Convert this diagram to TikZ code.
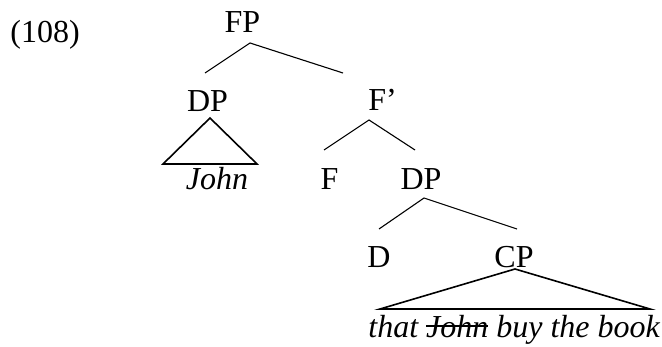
\documentclass[tikz,border=0pt]{standalone}
\usepackage{fontspec}
\setmainfont{Liberation Serif}
\newcommand\mystrike[1]{\setbox0\hbox{#1}\rlap{\rule[0.31em]{\wd0}{0.07em}}\box0\relax}
\begin{document}
\begin{tikzpicture}[x=0.5pt,y=-0.5pt,
  lab/.style={inner sep=0pt,anchor=base,font=\fontsize{16}{19}\selectfont},
  branch/.style={line width=0.55pt},
  tri/.style={line width=0.8pt,line join=miter}]
\useasboundingbox (0,0) rectangle (662,347);
\node[lab,anchor=base west] (ex) at (10,43) {(108)};
\node[lab] (FP) at (242.5,33) {FP};
\node[lab] (DP1) at (207.5,112) {DP};
\node[lab] (Fbar) at (382.5,111) {F’};
\node[lab] (F) at (329.5,190) {F};
\node[lab] (DP2) at (421,190) {DP};
\node[lab] (D) at (379,267) {D};
\node[lab] (CP) at (514,267) {CP};
\node[lab] (John) at (217,190) {\itshape John};
\node[lab,anchor=base west] (sent) at (368,337) {\itshape that \mystrike{John} buy the book};
% branch ends
\coordinate (fpT) at (250,43);
\coordinate (fpL) at (205,73);
\coordinate (fpR) at (343,73);
\coordinate (fbT) at (369,120);
\coordinate (fbL) at (324,150);
\coordinate (fbR) at (415,150);
\coordinate (dpT) at (424,198);
\coordinate (dpL) at (379,229);
\coordinate (dpR) at (517,229);
\coordinate (t1A) at (210,118);
\coordinate (t1L) at (163,164);
\coordinate (t1R) at (257,164);
\coordinate (t2A) at (515,269);
\coordinate (t2L) at (380,309);
\coordinate (t2R) at (650,309);
\draw[branch] (fpL) -- (fpT) -- (fpR);
\draw[branch] (fbL) -- (fbT) -- (fbR);
\draw[branch] (dpL) -- (dpT) -- (dpR);
\draw[tri] (t1A) -- (t1L) -- (t1R) -- cycle;
\draw[tri] (t2A) -- (t2L) -- (t2R) -- cycle;
\end{tikzpicture}
\end{document}
